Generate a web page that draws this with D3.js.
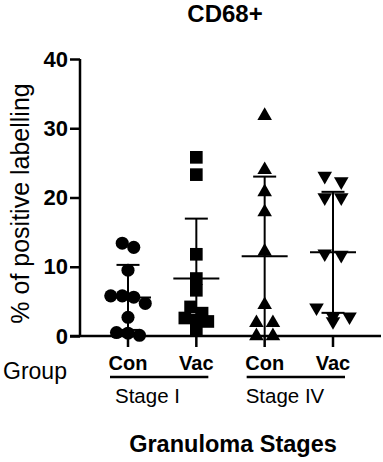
<!DOCTYPE html>
<html>
<meta charset="utf-8">
<head>
  <title>CD68+ scatter</title>
</head>
<style>
body { margin: 0; background: #fff; }
svg { font-family: "Liberation Sans", Arial, sans-serif; }
.axis path, .axis line { stroke: #000; stroke-width: 2.5px; }
.bar { stroke: #000; stroke-width: 2px; fill: none; }
</style>
<body>
<script src="https://cdnjs.cloudflare.com/ajax/libs/d3/7.8.5/d3.min.js"></script>
<script>

// groups on the x axis
var groups = ["ConI", "VacI", "ConIV", "VacIV"]
var groupLabels = ["Con", "Vac", "Con", "Vac"]
var stages = ["Stage I", "Stage IV"]
var yTicks = [0, 10, 20, 30, 40]

// % of positive labelling per animal
var conI  = [13.4, 12.8, 9.5, 5.8, 5.8, 5.6, 4.7, 2.7, 0.5, 0.4, 0.1]
var vacI  = [25.8, 23.3, 11.8, 8.3, 6.6, 4.2, 3.3, 2.6, 2.3, 2.1, 0.9]
var conIV = [31.8, 24.0, 20.8, 17.9, 12.2, 4.5, 1.9, 1.9, 0, 0]
var vacIV = [23.1, 22.3, 20.0, 20.0, 11.9, 11.7, 4.1, 2.8, 2.8, 2.1]

var series = [conI, vacI, conIV, vacIV]
var shapes = [d3.symbolCircle, d3.symbolSquare, d3.symbolTriangle, d3.symbolTriangle]

var width = 383,
    height = 462

var svg = d3.select("body").append("svg")
    .attr("width", width)
    .attr("height", height)

var y = d3.scaleLinear()
  .domain([0, 40])
  .range([336, 59])

var x = d3.scalePoint()
  .domain(groups)
  .range([128, 333])

// y axis
svg.append("g")
  .attr("class", "axis")
  .attr("transform", "translate(80,0)")
  .call(d3.axisLeft(y).tickValues(yTicks).tickSize(10).tickSizeOuter(0).tickPadding(2))
  .call(function(g) {
    g.selectAll("text").attr("font-size", 22).attr("font-weight", "bold")
      .attr("font-family", "Liberation Sans, Arial, sans-serif").attr("fill", "#000")
    g.select(".domain").attr("d", "M0," + y(40) + "V" + y(0))
  })

// x axis line + ticks
var xa = svg.append("g").attr("class", "axis")
xa.append("line")
  .attr("x1", 70).attr("x2", 381)
  .attr("y1", y(0)).attr("y2", y(0))
xa.selectAll(".xt")
  .data(groups)
  .enter().append("line")
  .attr("x1", function(d) { return x(d) }).attr("x2", function(d) { return x(d) })
  .attr("y1", y(0)).attr("y2", y(0) + 11)

// simple row beeswarm: points close in value share a row, spread sideways
function swarm(vals, step, rowPx) {
  var sorted = vals.slice().sort(function(a, b) { return b - a })
  var rows = [], cur = null
  sorted.forEach(function(v) {
    if (cur && Math.abs(y(v) - y(cur[0])) < rowPx) cur.push(v)
    else { cur = [v]; rows.push(cur) }
  })
  var out = []
  rows.forEach(function(r) {
    r.forEach(function(v, i) {
      out.push({ v: v, dx: (i - (r.length - 1) / 2) * step })
    })
  })
  return out
}

var steps = [11.5, 11.5, 16.5, 16.5]

series.forEach(function(vals, gi) {
  var cx = x(groups[gi])
  var m = d3.mean(vals), sd = d3.deviation(vals)
  var lo = Math.max(0, m - sd), hi = m + sd

  var g = svg.append("g")

  var sym = d3.symbol().type(shapes[gi])
    .size(gi == 0 ? 135 : gi == 1 ? 160 : 92)

  g.selectAll("path.pt")
    .data(swarm(vals, steps[gi], 11))
    .enter().append("path")
    .attr("class", "pt")
    .attr("d", sym)
    .attr("fill", "#000")
    .attr("transform", function(d) {
      return "translate(" + (cx + d.dx) + "," + y(d.v) + ")" + (gi == 3 ? " rotate(180)" : "")
    })

  // mean and SD
  g.append("line").attr("class", "bar")
    .attr("x1", cx).attr("x2", cx).attr("y1", y(lo)).attr("y2", y(hi))
  g.append("line").attr("class", "bar").attr("stroke-width", 2.5)
    .attr("x1", cx - 23).attr("x2", cx + 23).attr("y1", y(m)).attr("y2", y(m))
  ;[lo, hi].forEach(function(v) {
    g.append("line").attr("class", "bar")
      .attr("x1", cx - 11.5).attr("x2", cx + 11.5).attr("y1", y(v)).attr("y2", y(v))
  })
})

// group labels
svg.selectAll(".glab")
  .data(groups)
  .enter().append("text")
  .attr("x", function(d) { return x(d) })
  .attr("y", 370)
  .attr("text-anchor", "middle")
  .attr("font-size", 20)
  .attr("font-weight", "bold")
  .text(function(d, i) { return groupLabels[i] })

svg.append("text")
  .attr("x", 3).attr("y", 379)
  .attr("font-size", 23)
  .text("Group")

// stage underlines and names
stages.forEach(function(s, i) {
  var a = x(groups[i * 2]), b = x(groups[i * 2 + 1])
  svg.append("line")
    .attr("x1", a - 18).attr("x2", b + 12)
    .attr("y1", 377).attr("y2", 377)
    .attr("stroke", "#000").attr("stroke-width", 2.5)
  svg.append("text")
    .attr("x", a - 13 + (i * -6)).attr("y", 403)
    .attr("font-size", 20.5)
    .text(s)
})

svg.append("text")
  .attr("x", 233).attr("y", 452)
  .attr("text-anchor", "middle")
  .attr("font-size", 23.5)
  .attr("font-weight", "bold")
  .text("Granuloma Stages")

svg.append("text")
  .attr("x", 225).attr("y", 22)
  .attr("text-anchor", "middle")
  .attr("font-size", 24)
  .attr("font-weight", "bold")
  .text("CD68+")

svg.append("text")
  .attr("transform", "translate(29," + ((y(0) + y(40)) / 2 + 6) + ") rotate(-90)")
  .attr("text-anchor", "middle")
  .attr("font-size", 25)
  .text("% of positive labelling")

</script>
</body>
</html>
